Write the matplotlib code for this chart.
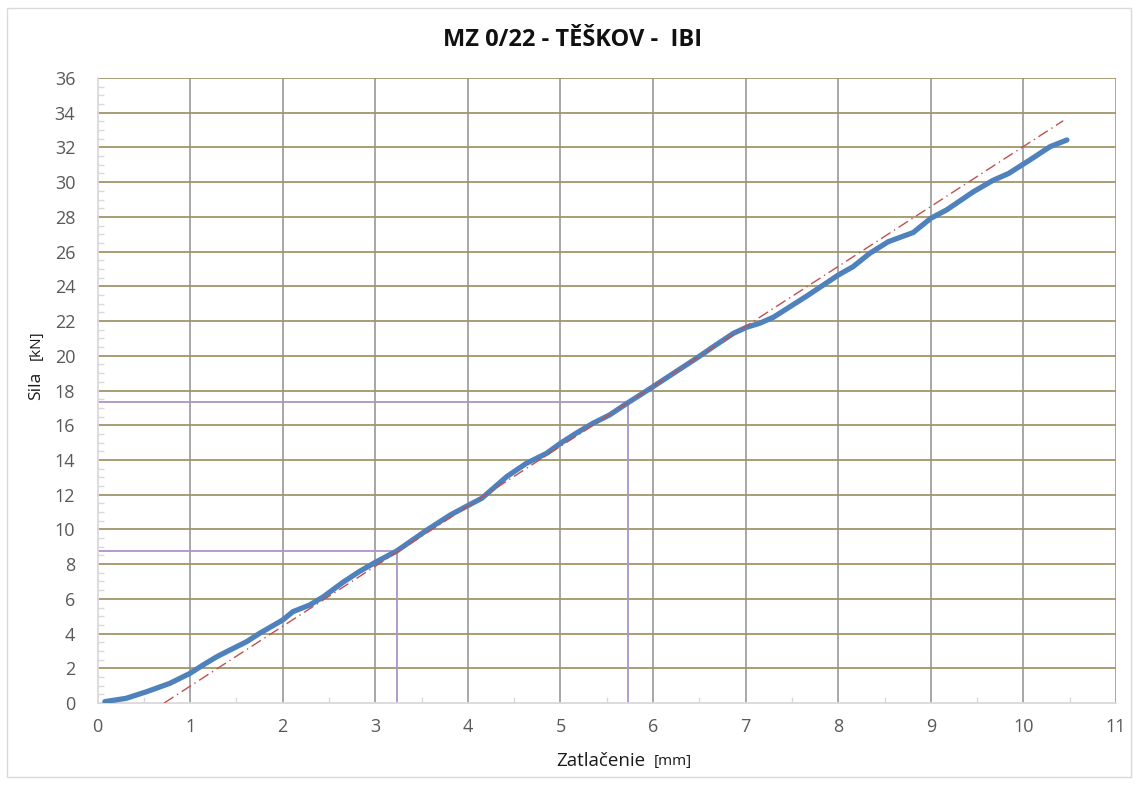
import matplotlib
matplotlib.use("Agg")
import matplotlib.pyplot as plt
from matplotlib.patches import Rectangle
from matplotlib.ticker import MultipleLocator

# Data
disp_mm = [0.08, 0.31, 0.53, 0.78, 1.00, 1.14, 1.29, 1.43, 1.61, 1.75, 2.00, 2.11, 2.29,
           2.44, 2.65, 2.83, 3.00, 3.23, 3.56, 3.81, 4.01, 4.15, 4.42, 4.63, 4.85, 5.00,
           5.17, 5.35, 5.53, 5.73, 5.86, 6.00, 6.22, 6.47, 6.65, 6.87, 7.01, 7.15, 7.30,
           7.48, 7.66, 7.84, 8.00, 8.16, 8.34, 8.54, 8.81, 9.00, 9.17, 9.46, 9.67, 9.84,
           10.07, 10.29, 10.47]
force_kN = [0.08, 0.27, 0.65, 1.13, 1.71, 2.19, 2.67, 3.05, 3.53, 4.01, 4.78, 5.26, 5.64,
            6.12, 6.95, 7.58, 8.10, 8.75, 9.97, 10.83, 11.40, 11.79, 13.04, 13.80, 14.38, 14.96,
            15.54, 16.11, 16.59, 17.30, 17.74, 18.22, 18.99, 19.86, 20.52, 21.30, 21.64, 21.87, 22.22,
            22.83, 23.44, 24.08, 24.65, 25.13, 25.90, 26.57, 27.10, 27.92, 28.40, 29.45, 30.10, 30.50,
            31.28, 32.05, 32.43]

fit_x = [0.72, 10.43]
fit_y = [0.0, 33.54]

mark1_x, mark1_y = 3.24, 8.74
mark2_x, mark2_y = 5.73, 17.32

title = "MZ 0/22 - TĚŠKOV -  IBI"
xlabel_main, xlabel_unit = "Zatlačenie", "[mm]"
ylabel_main, ylabel_unit = "Sila", "[kN]"

plt.rcParams['font.family'] = ['Open Sans', 'DejaVu Sans']

fig = plt.figure(figsize=(11.38, 7.85), dpi=100)
fig.patches.append(Rectangle((7/1138, 8/785), 1124/1138, 769/785, transform=fig.transFigure,
                             fill=False, edgecolor='#d9d9d9', linewidth=1.0))
ax = fig.add_axes([97.5/1138, 1 - 703/785, (1116 - 97.5)/1138, (703 - 78)/785])

ax.set_xlim(0, 11)
ax.set_ylim(0, 36)
ax.xaxis.set_major_locator(MultipleLocator(1))
ax.yaxis.set_major_locator(MultipleLocator(2))
ax.xaxis.set_minor_locator(MultipleLocator(0.5))
ax.yaxis.set_minor_locator(MultipleLocator(0.5))

# grid lines
for xv in range(1, 12):
    ax.axvline(xv, color='#a0a0a0', linewidth=1.3, zorder=1)
for yv in range(2, 37, 2):
    ax.axhline(yv, color='#a0966a', linewidth=1.3, zorder=1)

for side in ['top', 'right']:
    ax.spines[side].set_visible(False)
for side in ['left', 'bottom']:
    ax.spines[side].set_color('#d9d9d9')
    ax.spines[side].set_linewidth(1.3)

ax.tick_params(axis='both', which='major', length=0, labelsize=13, labelcolor='#595959')
ax.tick_params(axis='y', which='major', pad=16)
ax.tick_params(axis='x', which='major', pad=11)
ax.tick_params(axis='both', which='minor', direction='in', length=4, color='#d9d9d9', width=1)

# reference marker lines
ax.plot([0, mark1_x], [mark1_y, mark1_y], color='#a894c8', linewidth=1.3, zorder=2)
ax.plot([mark1_x, mark1_x], [0, mark1_y], color='#a894c8', linewidth=1.3, zorder=2)
ax.plot([0, mark2_x], [mark2_y, mark2_y], color='#a894c8', linewidth=1.3, zorder=2)
ax.plot([mark2_x, mark2_x], [0, mark2_y], color='#a894c8', linewidth=1.3, zorder=2)

ax.plot(disp_mm, force_kN, color='#4f81bd', linewidth=3.8, solid_capstyle='round',
        solid_joinstyle='round', zorder=3)
ax.plot(fit_x, fit_y, color='#c0504d', linewidth=1.0, linestyle=(0, (8, 3, 1, 3)), zorder=4)

fig.text(573/1138, 1 - 40/785, title, ha='center', va='center', fontsize=17,
         fontweight='bold', color='#111111')

fig.text(645/1138, 1 - 761/785, xlabel_main, ha='right', va='center', fontsize=13.5, color='#1a1a1a')
fig.text(654/1138, 1 - 762/785, xlabel_unit, ha='left', va='center', fontsize=11, color='#1a1a1a')
fig.text(36/1138, 1 - 386/785, ylabel_main, ha='center', va='center', rotation=90, fontsize=12.5, color='#1a1a1a')
fig.text(36/1138, 1 - 345/785, ylabel_unit, ha='center', va='center', rotation=90, fontsize=11, color='#1a1a1a')

fig.savefig("out.png", dpi=100)
